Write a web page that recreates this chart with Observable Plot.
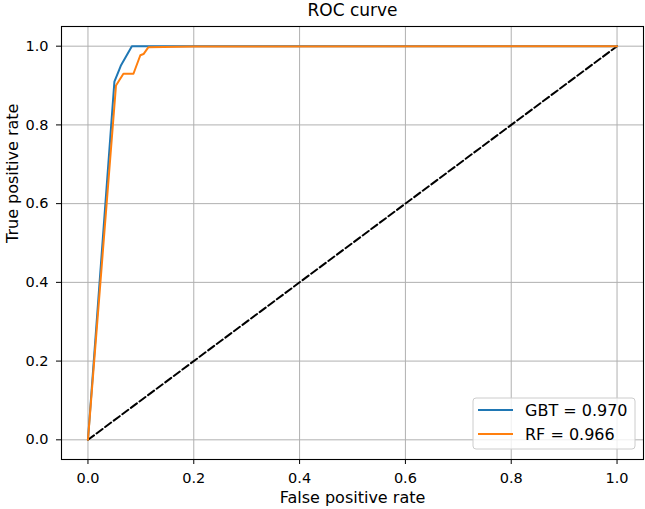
<!DOCTYPE html>
<html>
<head>
<meta charset="utf-8">
<script src="https://cdn.jsdelivr.net/npm/d3@7"></script>
<script src="https://cdn.jsdelivr.net/npm/@observablehq/plot@0.6"></script>
<style>
  html, body { margin: 0; padding: 0; background: #fff; }
  #chart svg { display: block; }
</style>
</head>
<body>
<div id="chart"></div>
<script>
const titleText = "ROC curve";
const xLabel = "False positive rate";
const yLabel = "True positive rate";
const tickValues = [0, 0.2, 0.4, 0.6, 0.8, 1.0];

const seriesNames = ["GBT = 0.970", "RF = 0.966"];
const seriesColors = ["#1f77b4", "#ff7f0e"];

const gbtFpr = [0, 0.050, 0.059, 0.062, 0.083, 1.0];
const gbtTpr = [0, 0.910, 0.940, 0.950, 1.000, 1.0];

const rfFpr = [0, 0.053, 0.067, 0.086, 0.099, 0.105, 0.114, 0.200, 1.0];
const rfTpr = [0, 0.900, 0.930, 0.930, 0.977, 0.980, 0.997, 0.999, 1.0];

const diagX = [0, 1];
const diagY = [0, 1];

const rows = [
  ...gbtFpr.map((x, i) => ({series: seriesNames[0], x, y: gbtTpr[i]})),
  ...rfFpr.map((x, i) => ({series: seriesNames[1], x, y: rfTpr[i]}))
];
const diag = diagX.map((x, i) => ({x, y: diagY[i]}));

const font = "DejaVu Sans, sans-serif";

const plot = Plot.plot({
  width: 645,
  height: 509,
  marginLeft: 61,
  marginRight: 2,
  marginTop: 26,
  marginBottom: 50,
  style: {fontFamily: font, fontSize: "14.5px", color: "#000", background: "#fff"},
  x: {domain: [-0.05, 1.05], ticks: tickValues, tickFormat: ".1f", label: null},
  y: {domain: [-0.05, 1.05], ticks: tickValues, tickFormat: ".1f", label: null},
  color: {domain: seriesNames, range: seriesColors},
  marks: [
    Plot.gridX(tickValues, {stroke: "#b0b0b0", strokeOpacity: 1, strokeWidth: 1}),
    Plot.gridY(tickValues, {stroke: "#b0b0b0", strokeOpacity: 1, strokeWidth: 1}),
    Plot.axisX(tickValues, {tickSize: 5, tickPadding: 8, tickFormat: ".1f", label: null, fontSize: 14.5}),
    Plot.axisY(tickValues, {tickSize: 5, tickPadding: 8, tickFormat: ".1f", label: null, fontSize: 14.5}),
    Plot.line(diag, {x: "x", y: "y", stroke: "#000", strokeWidth: 2, strokeDasharray: "7.5,3.2"}),
    Plot.line(rows, {x: "x", y: "y", z: "series", stroke: "series", strokeWidth: 2}),
    Plot.frame({stroke: "#000", strokeWidth: 1.1}),
    Plot.text([titleText], {frameAnchor: "top", dy: -16, lineAnchor: "middle", fontSize: 17}),
    Plot.text([xLabel], {frameAnchor: "bottom", dy: 38, lineAnchor: "middle", fontSize: 16}),
    Plot.text([yLabel], {frameAnchor: "left", dx: -49, rotate: -90, lineAnchor: "middle", fontSize: 16})
  ]
});

// legend (lower right, matplotlib style)
const svg = d3.select(plot);
const lg = svg.append("g").attr("font-family", font).attr("font-size", 16).attr("text-anchor", "start");
lg.append("rect")
  .attr("x", 473).attr("y", 398).attr("width", 162).attr("height", 51)
  .attr("rx", 3).attr("fill", "#fff").attr("fill-opacity", 0.8)
  .attr("stroke", "#cccccc").attr("stroke-width", 1);
seriesNames.forEach((name, i) => {
  const yy = 410 + i * 24;
  lg.append("line").attr("x1", 478).attr("x2", 513).attr("y1", yy).attr("y2", yy)
    .attr("stroke", seriesColors[i]).attr("stroke-width", 2);
  lg.append("text").attr("x", 525).attr("y", yy).attr("dy", "0.35em")
    .attr("text-anchor", "start").attr("fill", "#000").text(name);
});

document.getElementById("chart").appendChild(plot);
</script>
</body>
</html>
